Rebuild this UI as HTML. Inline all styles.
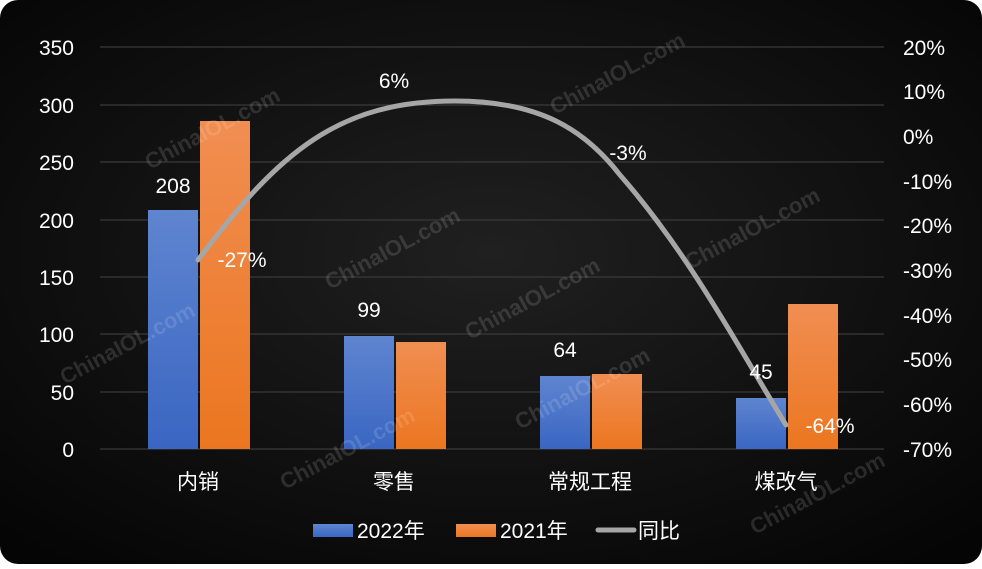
<!DOCTYPE html>
<html><head><meta charset="utf-8"><style>
html,body{margin:0;padding:0;background:#fff;}
body{width:982px;height:564px;overflow:hidden;}
</style></head><body>
<svg width="982" height="564" xmlns="http://www.w3.org/2000/svg" font-family="'Liberation Sans','Noto Sans CJK SC',sans-serif">
<defs>
<radialGradient id="bg" cx="50%" cy="45%" r="70%">
<stop offset="0" stop-color="#202020"/><stop offset="1" stop-color="#050505"/>
</radialGradient>
<linearGradient id="bl" x1="0" y1="0" x2="0" y2="1"><stop offset="0" stop-color="#5f85d0"/><stop offset="1" stop-color="#3a66c2"/></linearGradient>
<linearGradient id="or" x1="0" y1="0" x2="0" y2="1"><stop offset="0" stop-color="#f08e52"/><stop offset="1" stop-color="#ec7620"/></linearGradient>
</defs>
<rect x="0" y="0" width="982" height="564" rx="18" fill="url(#bg)"/>
<g stroke="#3a3a3a" stroke-width="1.2">
<line x1="100" x2="884" y1="47" y2="47"/><line x1="100" x2="884" y1="105" y2="105"/>
<line x1="100" x2="884" y1="162" y2="162"/><line x1="100" x2="884" y1="220" y2="220"/>
<line x1="100" x2="884" y1="277" y2="277"/><line x1="100" x2="884" y1="334" y2="334"/>
<line x1="100" x2="884" y1="392" y2="392"/><line x1="100" x2="884" y1="449" y2="449"/>
</g>
<g fill="#ffffff" font-size="21" text-anchor="end">
<text x="74" y="55">350</text><text x="74" y="113">300</text><text x="74" y="170">250</text>
<text x="74" y="228">200</text><text x="74" y="285">150</text><text x="74" y="342">100</text>
<text x="74" y="400">50</text><text x="74" y="457">0</text>
</g>
<g fill="#ffffff" font-size="21" text-anchor="start">
<text x="903" y="55">20%</text><text x="903" y="99">10%</text><text x="903" y="144">0%</text>
<text x="903" y="189">-10%</text><text x="903" y="233">-20%</text><text x="903" y="278">-30%</text>
<text x="903" y="323">-40%</text><text x="903" y="367">-50%</text><text x="903" y="412">-60%</text>
<text x="903" y="457">-70%</text>
</g>
<rect x="148" y="210" width="50" height="239" fill="url(#bl)"/>
<rect x="200" y="121" width="50" height="328" fill="url(#or)"/>
<rect x="344" y="336" width="50" height="113" fill="url(#bl)"/>
<rect x="396" y="342" width="50" height="107" fill="url(#or)"/>
<rect x="540" y="376" width="50" height="73" fill="url(#bl)"/>
<rect x="592" y="374" width="50" height="75" fill="url(#or)"/>
<rect x="736" y="398" width="50" height="51" fill="url(#bl)"/>
<rect x="788" y="304" width="50" height="145" fill="url(#or)"/>
<g font-size="22" font-weight="bold" fill="#ffffff" fill-opacity="0.13">
<text transform="translate(65,385) rotate(-28)">ChinaIOL.com</text>
<text transform="translate(150,170) rotate(-28)">ChinaIOL.com</text>
<text transform="translate(330,290) rotate(-28)">ChinaIOL.com</text>
<text transform="translate(285,490) rotate(-28)">ChinaIOL.com</text>
<text transform="translate(470,340) rotate(-28)">ChinaIOL.com</text>
<text transform="translate(555,115) rotate(-28)">ChinaIOL.com</text>
<text transform="translate(690,270) rotate(-28)">ChinaIOL.com</text>
<text transform="translate(755,535) rotate(-28)">ChinaIOL.com</text>
<text transform="translate(520,430) rotate(-28)">ChinaIOL.com</text>
</g>
<path d="M198,260 C280,150 340,101 455,101 C540,101 585,130 620,175 C690,255 740,350 786,425" fill="none" stroke="#a6a6a6" stroke-width="5" stroke-linecap="round"/>
<g fill="#ffffff" font-size="21" text-anchor="middle">
<text x="173" y="193">208</text><text x="369" y="317">99</text>
<text x="565" y="357">64</text><text x="761" y="379">45</text>
<text x="242" y="267">-27%</text><text x="394" y="88">6%</text>
<text x="628" y="160">-3%</text><text x="830" y="433">-64%</text>
</g>
<g fill="#ffffff" font-size="21" text-anchor="middle">
<text x="198" y="489">内销</text><text x="394" y="489">零售</text>
<text x="590" y="489">常规工程</text><text x="786" y="489">煤改气</text>
</g>
<rect x="313" y="524" width="40" height="13" fill="url(#bl)"/>
<text x="357" y="538" fill="#fff" font-size="21">2022年</text>
<rect x="456" y="524" width="40" height="13" fill="url(#or)"/>
<text x="500" y="538" fill="#fff" font-size="21">2021年</text>
<line x1="598" x2="634" y1="530" y2="530" stroke="#a6a6a6" stroke-width="5" stroke-linecap="round"/>
<text x="638" y="538" fill="#fff" font-size="21">同比</text>
</svg>
</body></html>
